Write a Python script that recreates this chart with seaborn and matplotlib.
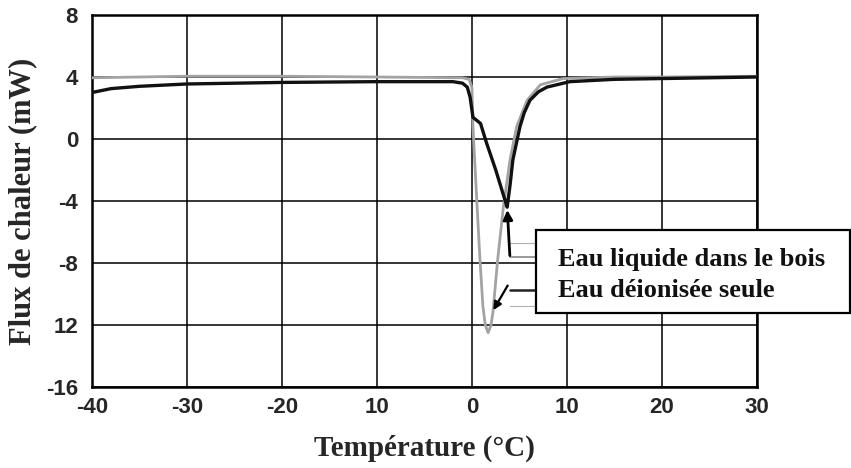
import matplotlib
matplotlib.use("Agg")
import matplotlib.pyplot as plt
import seaborn as sns
import pandas as pd
from matplotlib.patches import Rectangle

# ---- data ----
bois_x = [-40, -38, -35, -30, -20, -10, -2, -1, -0.5, -0.2, 0.1, 0.5, 0.9, 1.5, 2.0, 2.5, 3.0, 3.5, 3.7,
          4.0, 4.3, 4.7, 5.05, 5.5, 6.1, 7.0, 7.9, 10.3, 15, 20, 30]
bois_y = [3.0, 3.25, 3.4, 3.55, 3.65, 3.7, 3.7, 3.6, 3.35, 2.7, 1.4, 1.2, 1.0, -0.2, -1.1, -2.0, -3.0, -4.0, -4.4,
          -3.0, -1.35, -0.2, 0.8, 1.7, 2.5, 3.05, 3.35, 3.7, 3.85, 3.9, 4.0]

eau_x = [-40, -30, -20, -10, -1, -0.3, 0.0, 0.1, 0.3, 0.55, 0.84, 1.15, 1.4, 1.7, 2.0, 2.2, 2.7, 3.3, 4.0,
         4.7, 5.8, 7.2, 9.6, 15, 20, 30]
eau_y = [3.95, 4.05, 4.05, 4.0, 3.95, 3.85, 3.3, 0.8, -1.6, -4.5, -7.8, -10.8, -12.0, -12.5, -12.0, -11.2,
         -7.8, -4.4, -1.35, 0.8, 2.5, 3.5, 3.9, 4.0, 4.0, 4.05]

series_names = ["Eau liquide dans le bois", "Eau déionisée seule"]
x_ticks = [-40, -30, -20, -10, 0, 10, 20, 30]
x_tick_labels = ["-40", "-30", "-20", "10", "0", "10", "20", "30"]
y_ticks = [8, 4, 0, -4, -8, -12, -16]
y_tick_labels = ["8", "4", "0", "-4", "-8", "12", "-16"]

df = pd.concat([
    pd.DataFrame({"T": bois_x, "F": bois_y, "s": series_names[0]}),
    pd.DataFrame({"T": eau_x, "F": eau_y, "s": series_names[1]}),
])

sns.set_theme(style="white")
plt.rcParams["font.family"] = ["Liberation Serif", "DejaVu Serif"]

fig = plt.figure(figsize=(8.51, 4.68), dpi=100)
ax = fig.add_axes([92/851, 1-387/468, (757-92)/851, (387-15)/468])

ax.set_xlim(-40, 30)
ax.set_ylim(-16, 8)
ax.set_xticks(x_ticks)
ax.set_yticks(y_ticks)
ax.grid(True, color="black", linewidth=1.1)
ax.set_axisbelow(True)

sns.lineplot(data=df[df.s == series_names[1]], x="T", y="F", color="#a3a3a3", linewidth=2.0,
             ax=ax, sort=False, estimator=None, legend=False, zorder=3)
sns.lineplot(data=df[df.s == series_names[0]], x="T", y="F", color="#111111", linewidth=2.4,
             ax=ax, sort=False, estimator=None, legend=False, zorder=4)

ax.set_xticklabels(x_tick_labels, family="Liberation Sans", fontweight="bold", fontsize=16)
ax.set_yticklabels(y_tick_labels, family="Liberation Sans", fontweight="bold", fontsize=16)
ax.tick_params(axis="both", length=0)
ax.tick_params(axis="x", pad=7)
ax.tick_params(axis="y", pad=10)
for sp in ax.spines.values():
    sp.set_color("black")
    sp.set_linewidth(1.8)

ax.set_xlabel("Température (°C)", fontsize=21, fontweight="bold", labelpad=12)
ax.set_ylabel("Flux de chaleur (mW)", fontsize=22, fontweight="bold", labelpad=6)

# legend box annotation
ax.add_patch(Rectangle((6.7, -11.2), 33.1, 5.35, facecolor="white", edgecolor="black",
                       linewidth=1.6, clip_on=False, zorder=6))
ax.text(9.0, -7.75, series_names[0], fontsize=19, fontweight="bold", va="center", ha="left",
        color="#111111", zorder=7, clip_on=False)
ax.text(9.0, -9.8, series_names[1], fontsize=19, fontweight="bold", va="center", ha="left",
        color="#111111", zorder=7, clip_on=False)

# connectors and arrows
ax.plot([4.0, 6.7], [-6.7, -6.7], color="#b0b0b0", lw=0.8, zorder=5)
ax.plot([4.0, 6.7], [-7.6, -7.6], color="#999999", lw=1.4, zorder=5)
ax.plot([4.0, 6.7], [-9.75, -9.75], color="#222222", lw=1.8, zorder=5)
ax.plot([4.0, 6.7], [-10.8, -10.8], color="#b0b0b0", lw=0.8, zorder=5)
ax.annotate("", xy=(3.7, -4.4), xytext=(4.0, -7.7),
            arrowprops=dict(arrowstyle="-|>", color="black", lw=2.0, mutation_scale=14), zorder=6)
ax.annotate("", xy=(2.1, -11.2), xytext=(3.9, -9.3),
            arrowprops=dict(arrowstyle="-|>", color="black", lw=1.6, mutation_scale=12), zorder=6)

fig.savefig("out.png", dpi=100)
